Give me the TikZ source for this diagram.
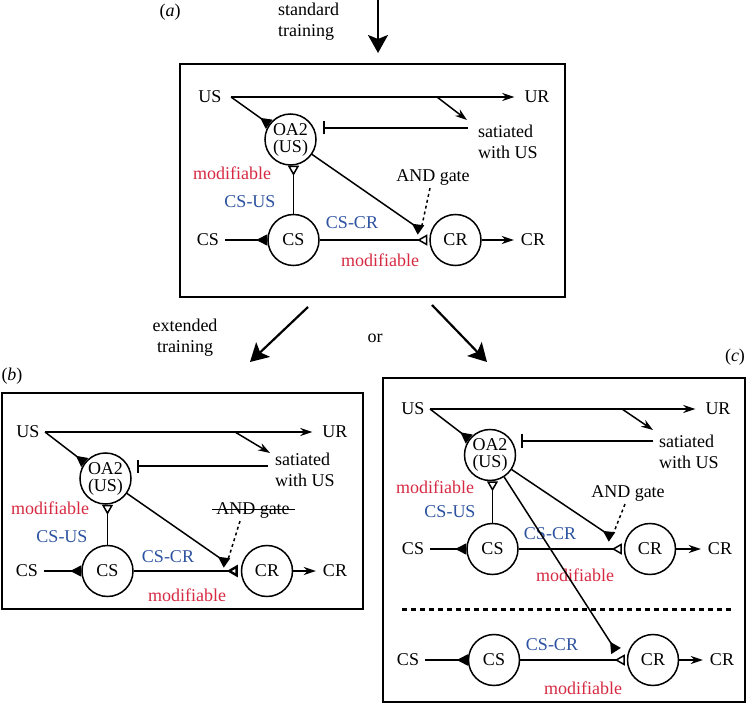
\documentclass[tikz,border=0pt]{standalone}
\usepackage{fontspec}
\setmainfont{Liberation Serif}
\usetikzlibrary{arrows.meta}
\definecolor{modred}{RGB}{214,42,66}
\definecolor{linkblue}{RGB}{44,82,160}
\begin{document}
\begin{tikzpicture}[x=1pt,y=-1pt,
				font=\fontsize{18}{21}\selectfont,
				every node/.style={inner sep=2pt},
				cell/.style={circle, draw, line width=1.5pt, minimum size=51pt, inner sep=0pt, align=center, font=\fontsize{18}{17}\selectfont},
				mod/.style={text=modred},
				lnk/.style={text=linkblue},
				wire/.style={line width=1.5pt},
				syn/.style={wire, -{Triangle[reversed,length=11pt,width=11pt]}},
				gate/.style={wire, -{Triangle[open,reversed,length=10pt,width=11pt]}},
				boldgate/.style={wire, -{Triangle[open,reversed,length=11pt,width=12pt,line width=2.4pt]}},
				inhib/.style={wire, -{Bar[width=13pt,line width=2.2pt]}},
				resp/.style={wire, -{Stealth[length=12pt,width=8pt]}},
				big/.style={line width=2.2pt, -{Stealth[length=18pt,width=20pt,inset=4pt]}},
				frame/.style={draw, line width=1.8pt},
				sat/.style={anchor=west, align=left, inner sep=0pt}
				]
			\useasboundingbox (0,0) rectangle (748,714);
			% (a) standard training
			\node (la) at (170,12) {(\textit{a})};
			\node[align=left, anchor=west] (std) at (276,22) {standard\\training};
			\coordinate (t0) at (378,0);
			\coordinate (t1) at (378,53);
			\draw[big] (t0) -- (t1);
			\draw[frame] (180,64) rectangle (565,297);
			\node (aUS) at (210,97) {US};
			\node (aUR) at (537,97) {UR};
			\node[sat] (aSat) at (478,142) {satiated\\with US};
			\node[cell] (aOA) at (290.5,139.5) {OA2\\(US)};
			\node[cell] (aCS) at (293.5,240) {CS};
			\node[cell] (aCR) at (455.5,240) {CR};
			\node (aCSin) at (208,240) {CS};
			\node (aCRout) at (533,240) {CR};
			\node[mod] (aMod1) at (232,173) {modifiable};
			\node[lnk] (aLnk1) at (250,202) {CS-US};
			\node[lnk] (aLnk2) at (352,223) {CS-CR};
			\node[mod] (aMod2) at (380,260) {modifiable};
			\node (aAnd) at (433,178) {AND gate};
			\coordinate (aU) at (231,97);
			\coordinate (aJ) at (437,97);
			\coordinate (aJs) at (467,120);
			\coordinate (aS) at (468,128);
			\coordinate (aG) at (421,230);
			\draw[resp] (aU) -- ([xshift=-8pt]aUR.west);
			\draw[resp] (aJ) -- (aJs);
			\draw[syn] (aU) -- (aOA);
			\draw[inhib, shorten >=6pt] (aS) -- (aS -| aOA.east);
			\draw[gate] (aCS) -- (aCS |- aOA.south);
			\draw[syn] (aOA) -- (aG);
			\draw[gate, shorten >=2pt] (aCS) -- (aCR);
			\draw[syn, shorten <=4pt] (aCSin) -- (aCS);
			\draw[resp, shorten >=5pt] (aCR) -- (aCRout);
			\draw[wire, dashed, shorten >=4pt] ([xshift=-3pt]aAnd.south) -- (aG);
			% branches
			\node[align=center] (ext) at (185,338) {extended\\training};
			\node (orlbl) at (375,338) {or};
			\coordinate (l0) at (308,307);
			\coordinate (l1) at (250,362);
			\coordinate (r0) at (432,305);
			\coordinate (r1) at (487,362);
			\draw[big] (l0) -- (l1);
			\draw[big] (r0) -- (r1);
			% (b) extended training
			\node (lb) at (12,376) {(\textit{b})};
			\draw[frame] (2,393) rectangle (363,609);
			\node (bUS) at (28,432) {US};
			\node (bUR) at (335,432) {UR};
			\node[sat] (bSat) at (275,470) {satiated\\with US};
			\node[cell] (bOA) at (105.5,478.5) {OA2\\(US)};
			\node[cell] (bCS) at (107.5,571) {CS};
			\node[cell] (bCR) at (267,571) {CR};
			\node (bCSin) at (27,571) {CS};
			\node (bCRout) at (335,571) {CR};
			\node[mod] (bMod1) at (50,508) {modifiable};
			\node[lnk] (bLnk1) at (62,537) {CS-US};
			\node[lnk] (bLnk2) at (168,557) {CS-CR};
			\node[mod] (bMod2) at (187,595) {modifiable};
			\node (bAnd) at (253,511) {AND gate};
			\draw[line width=1pt] ([xshift=-2pt,yshift=1.5pt]bAnd.west) -- ([xshift=3pt,yshift=1.5pt]bAnd.east);
			\coordinate (bU) at (45,432);
			\coordinate (bJ) at (235,432);
			\coordinate (bJs) at (270,453);
			\coordinate (bS) at (268,466);
			\coordinate (bG) at (227,563);
			\draw[resp] (bU) -- ([xshift=-8pt]bUR.west);
			\draw[resp] (bJ) -- (bJs);
			\draw[syn] (bU) -- (bOA);
			\draw[inhib, shorten >=5pt] (bS) -- (bS -| bOA.east);
			\draw[gate] (bCS) -- (bCS |- bOA.south);
			\draw[syn] (bOA) -- (bG);
			\draw[boldgate, shorten >=3pt] (bCS) -- (bCR);
			\draw[syn, shorten <=4pt] (bCSin) -- (bCS);
			\draw[resp, shorten >=5pt] (bCR) -- (bCRout);
			\draw[wire, dashed, shorten >=5pt] ([xshift=-13pt]bAnd.south) -- (bG);
			% (c) two CR pathways
			\node (lc) at (735,357) {(\textit{c})};
			\draw[frame] (383,378) rectangle (745,702);
			\node (cUS) at (413,409) {US};
			\node (cUR) at (718,409) {UR};
			\node[sat] (cSat) at (659,452) {satiated\\with US};
			\node[cell] (cOA) at (490,455) {OA2\\(US)};
			\node[cell] (cCS) at (492.5,549) {CS};
			\node[cell] (cCR) at (650,549) {CR};
			\node (cCSin) at (413,549) {CS};
			\node (cCRout) at (720,549) {CR};
			\node[mod] (cMod1) at (435,487) {modifiable};
			\node[lnk] (cLnk1) at (450,512) {CS-US};
			\node[lnk] (cLnk2) at (550,534) {CS-CR};
			\node[mod] (cMod2) at (575,575) {modifiable};
			\node (cAnd) at (628,494) {AND gate};
			\coordinate (cU) at (430,409);
			\coordinate (cJ) at (622,409);
			\coordinate (cJs) at (653,430);
			\coordinate (cS) at (653,441);
			\coordinate (cG) at (612,537);
			\draw[resp] (cU) -- ([xshift=-8pt]cUR.west);
			\draw[resp] (cJ) -- (cJs);
			\draw[syn] (cU) -- (cOA);
			\draw[inhib, shorten >=5pt] (cS) -- (cS -| cOA.east);
			\draw[gate] (cCS) -- (cCS |- cOA.south);
			\draw[syn] (cOA) -- (cG);
			\draw[gate, shorten >=2pt] (cCS) -- (cCR);
			\draw[syn, shorten <=4pt] (cCSin) -- (cCS);
			\draw[resp, shorten >=5pt] (cCR) -- (cCRout);
			\draw[wire, dashed, shorten >=4pt] ([xshift=-3pt]cAnd.south) -- (cG);
			\coordinate (sep0) at (402,609);
			\coordinate (sep1) at (733,609);
			\draw[line width=3pt, dash pattern=on 5pt off 4pt] (sep0) -- (sep1);
			\node[cell] (cCS2) at (494,660) {CS};
			\node[cell] (cCR2) at (653,660) {CR};
			\node (cCSin2) at (408,660) {CS};
			\node (cCRout2) at (722,660) {CR};
			\node[lnk] (cLnk3) at (552,645) {CS-CR};
			\node[mod] (cMod3) at (583,688) {modifiable};
			\coordinate (cG2) at (616,651);
			\draw[syn] (cOA) -- (cG2);
			\draw[gate, shorten >=2pt] (cCS2) -- (cCR2);
			\draw[syn, shorten <=4pt] (cCSin2) -- (cCS2);
			\draw[resp, shorten >=5pt] (cCR2) -- (cCRout2);
			\end{tikzpicture}
\end{document}
